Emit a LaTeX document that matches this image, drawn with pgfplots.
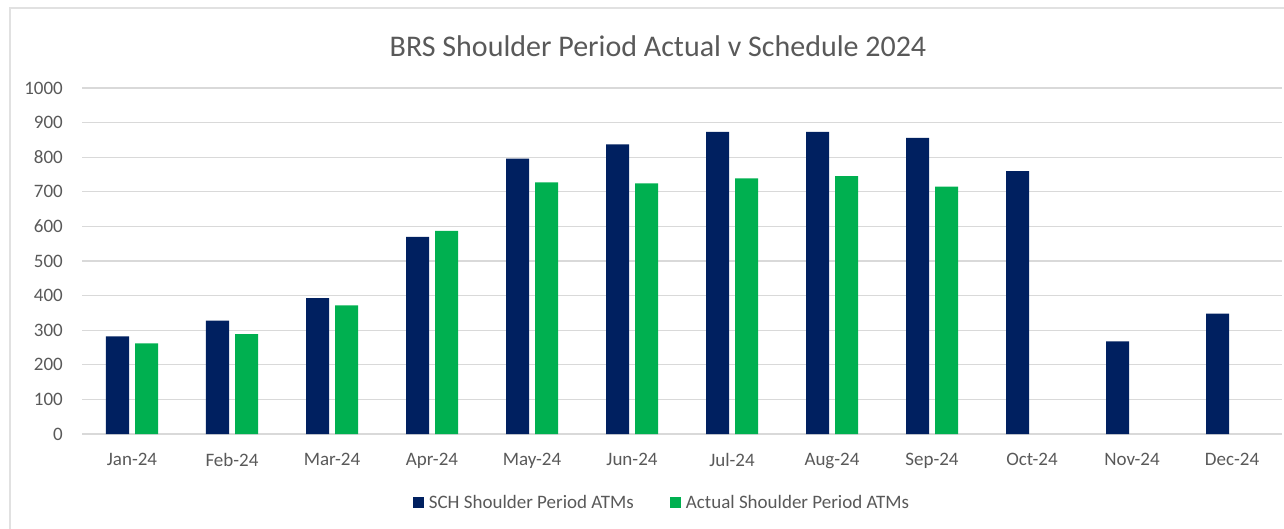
\documentclass[border=0pt]{standalone}
\usepackage{pgfplots}
\pgfplotsset{compat=1.18}
\usepackage{fontspec}
\setmainfont{Carlito}
\definecolor{sch}{HTML}{002060}
\definecolor{act}{HTML}{00B050}
\definecolor{txt}{HTML}{595959}
\definecolor{grid}{HTML}{D9D9D9}
\begin{document}
\begin{tikzpicture}
\useasboundingbox (-82bp,-95bp) rectangle (1202bp,434bp);
\draw[color=grid!80, line width=1.5bp] (-72bp,-100bp) -- (-72bp,426bp) -- (1210bp,426bp);
\begin{axis}[
  at={(0,0)}, anchor=south west,
  scale only axis,
  width=1200bp, height=346bp,
  xmin=-0.5, xmax=11.5,
  ymin=0, ymax=1000,
  ytick={0,100,...,1000},
  xtick={0,1,...,11},
  xticklabels={Jan-24,Feb-24,Mar-24,Apr-24,May-24,Jun-24,Jul-24,Aug-24,Sep-24,Oct-24,Nov-24,Dec-24},
  ymajorgrids,
  grid style={color=grid, line width=1.3bp},
  axis line style={draw=none},
  major tick length=0pt,
  /pgf/number format/assume math mode=true,
  /pgf/number format/1000 sep={},
  ticklabel style={font=\fontsize{19bp}{22bp}\selectfont, text=txt},
  yticklabel style={inner sep=0pt, xshift=-19bp},
  xticklabel style={inner sep=0pt, yshift=-19bp},
  ybar=6bp,
  bar width=23bp,
  legend style={at={(0.4833,-0.1994)}, anchor=center, draw=none, fill=none,
    legend columns=2, font=\fontsize{19bp}{22bp}\selectfont, text=txt,
    /tikz/every even column/.append style={column sep=34bp}},
  legend cell align=left,
  legend image code/.code={\fill[#1] (0bp,-5.5bp) rectangle (11bp,5.5bp); \path (14bp,0bp);},
  clip=false,
]
\addplot[fill=sch, draw=none] coordinates {
(0,282) (1,328) (2,393) (3,570) (4,796) (5,837) (6,873) (7,873) (8,856) (9,760) (10,268) (11,348)};
\addplot[fill=act, draw=none] coordinates {
(0,262) (1,289) (2,372) (3,587) (4,727) (5,724) (6,739) (7,745) (8,715)};
\legend{SCH Shoulder Period ATMs, Actual Shoulder Period ATMs}
\end{axis}
\node[text=txt, font=\fontsize{30bp}{35bp}\selectfont] at (576bp,388bp) {BRS Shoulder Period Actual v Schedule 2024};
\end{tikzpicture}
\end{document}
